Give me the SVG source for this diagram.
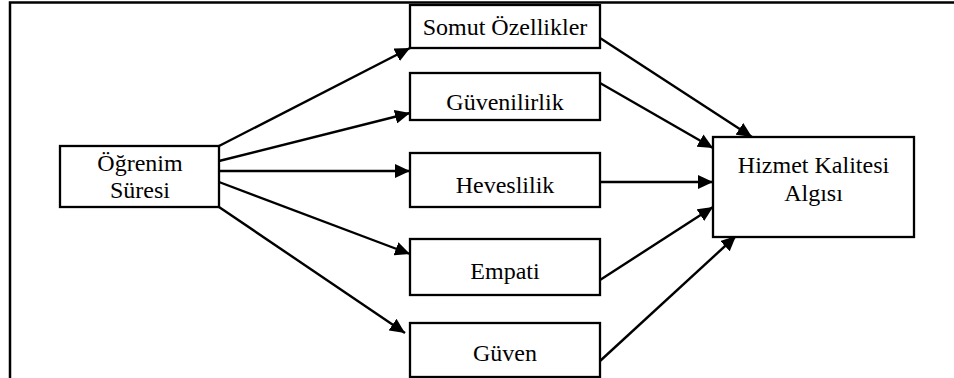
<svg xmlns="http://www.w3.org/2000/svg" width="954" height="378" viewBox="0 0 954 378">
<style>
.box{fill:#fff;stroke:#000;stroke-width:2.3}
.t{font-family:"Liberation Serif","Times New Roman",serif;font-size:24px;fill:#000;text-anchor:middle}
.c{stroke:#000;stroke-width:2.4;fill:none;marker-end:url(#ah)}
.frame{stroke:#000;stroke-width:2.5;fill:none}
</style>
<defs>
<marker id="ah" viewBox="0 0 15 14" refX="15" refY="7" markerWidth="15" markerHeight="14" markerUnits="userSpaceOnUse" orient="auto">
<path d="M0,0 L15,7 L0,14 Z" fill="#000"/>
</marker>
</defs>
<rect width="954" height="378" fill="#fff"/>
<g id="frame">
<path class="frame" d="M954,2.5 H10 V378"/>
</g>
<g id="connectors">
<line class="c" x1="219" y1="146" x2="410" y2="48"/>
<line class="c" x1="219" y1="161" x2="410" y2="113"/>
<line class="c" x1="219" y1="171" x2="410" y2="171"/>
<line class="c" x1="219" y1="182" x2="410" y2="254"/>
<line class="c" x1="219" y1="207" x2="405" y2="333"/>
<line class="c" x1="600" y1="38" x2="752" y2="137"/>
<line class="c" x1="600" y1="83" x2="713" y2="148"/>
<line class="c" x1="600" y1="182" x2="713" y2="182"/>
<line class="c" x1="600" y1="280" x2="713" y2="207"/>
<line class="c" x1="600" y1="361" x2="736" y2="236"/>
</g>
<g id="ogrenim">
<rect class="box" x="60" y="146" width="159" height="61"/>
<text class="t" x="140" y="171">Öğrenim</text>
<text class="t" x="140" y="198">Süresi</text>
</g>
<g id="somut">
<rect class="box" x="410" y="5" width="190" height="43"/>
<text class="t" x="505" y="35">Somut Özellikler</text>
</g>
<g id="guvenilirlik">
<rect class="box" x="410" y="73" width="190" height="47"/>
<text class="t" x="505" y="110">Güvenilirlik</text>
</g>
<g id="heveslilik">
<rect class="box" x="410" y="153" width="190" height="54"/>
<text class="t" x="505" y="193">Heveslilik</text>
</g>
<g id="empati">
<rect class="box" x="410" y="239" width="190" height="56"/>
<text class="t" x="505" y="279">Empati</text>
</g>
<g id="guven">
<rect class="box" x="410" y="323" width="190" height="54"/>
<text class="t" x="505" y="361">Güven</text>
</g>
<g id="hizmet">
<rect class="box" x="713" y="137" width="201" height="100"/>
<text class="t" x="813.5" y="173">Hizmet Kalitesi</text>
<text class="t" x="813.5" y="201">Algısı</text>
</g>
</svg>
